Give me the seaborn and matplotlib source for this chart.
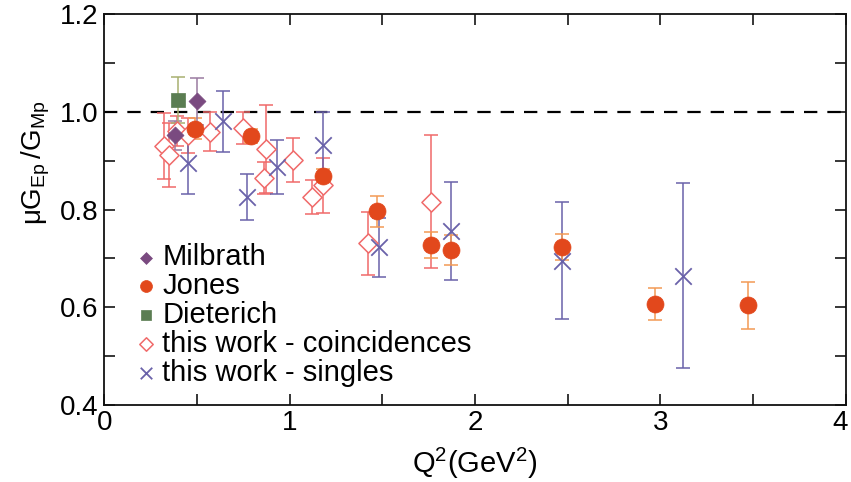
import matplotlib
matplotlib.use('Agg')
import matplotlib.pyplot as plt
import matplotlib.transforms as mtransforms
import seaborn as sns
import numpy as np

# Data
milbrath_q2 = [0.38, 0.50]
milbrath_r = [0.952, 1.022]
milbrath_err = [0.030, 0.048]

jones_q2 = [0.49, 0.79, 1.18, 1.47, 1.76, 1.87, 2.47, 2.97, 3.47]
jones_r = [0.966, 0.951, 0.869, 0.797, 0.727, 0.718, 0.724, 0.607, 0.604]
jones_err = [0.022, 0.015, 0.015, 0.032, 0.027, 0.031, 0.027, 0.033, 0.048]

dieterich_q2 = [0.40]
dieterich_r = [1.024]
dieterich_err = [0.047]

coinc_q2 = [0.32, 0.35, 0.39, 0.45, 0.57, 0.75, 0.87, 0.86, 1.02, 1.12, 1.18, 1.42, 1.76]
coinc_r = [0.931, 0.912, 0.961, 0.952, 0.960, 0.967, 0.924, 0.865, 0.902, 0.826, 0.850, 0.731, 0.816]
coinc_err = [0.068, 0.065, 0.030, 0.036, 0.040, 0.033, 0.090, 0.033, 0.045, 0.034, 0.056, 0.064, 0.136]

singles_q2 = [0.45, 0.64, 0.77, 0.93, 1.18, 1.48, 1.87, 2.47, 3.12]
singles_r = [0.895, 0.981, 0.826, 0.888, 0.933, 0.723, 0.756, 0.695, 0.665]
singles_err = [0.062, 0.062, 0.048, 0.055, 0.067, 0.060, 0.100, 0.120, 0.190]

x_ticks = [0, 1, 2, 3, 4]
y_ticks = [0.4, 0.6, 0.8, 1.0, 1.2]

# Colours
C_MILB = '#7a4a80'
C_JONES = '#e2481c'
C_JONES_ERR = '#f39a55'
C_DIET = '#5b7d52'
C_DIET_ERR = '#a8b070'
C_COINC = '#f06a6a'
C_SING = '#6a62aa'


def make_plot(out_path='out.png'):
    sns.set_theme(style='ticks')
    plt.rcParams['font.family'] = ['Liberation Sans', 'DejaVu Sans']
    plt.rcParams['mathtext.default'] = 'regular'
    plt.rcParams['text.color'] = 'black'
    plt.rcParams['axes.labelcolor'] = 'black'
    plt.rcParams['xtick.color'] = 'black'
    plt.rcParams['ytick.color'] = 'black'

    fig = plt.figure(figsize=(8.51, 4.82), dpi=100)
    ax = fig.add_axes([0.1225, 0.16, 0.8715, 0.81])

    ax.axhline(1.0, color='black', lw=1.6, ls=(0, (6, 4.5)), zorder=1)

    ebar = dict(fmt='none', capsize=5, elinewidth=1.1, capthick=1.1)
    ax.errorbar(coinc_q2, coinc_r, yerr=coinc_err, ecolor=C_COINC, zorder=2, **ebar)
    ax.errorbar(singles_q2, singles_r, yerr=singles_err, ecolor=C_SING, zorder=2, **ebar)
    ax.errorbar(jones_q2, jones_r, yerr=jones_err, ecolor=C_JONES_ERR, zorder=3, **ebar)
    ax.errorbar(milbrath_q2, milbrath_r, yerr=milbrath_err, ecolor='#9a7aa0', zorder=3, **ebar)
    ax.errorbar(dieterich_q2, dieterich_r, yerr=dieterich_err, ecolor=C_DIET_ERR, zorder=3, **ebar)

    sns.scatterplot(x=milbrath_q2, y=milbrath_r, marker='D', s=75, color=C_MILB,
                    edgecolor=C_MILB, linewidth=0.5, label='Milbrath', ax=ax, zorder=5)
    sns.scatterplot(x=jones_q2, y=jones_r, marker='o', s=150, color=C_JONES,
                    edgecolor=C_JONES, linewidth=0.5, label='Jones', ax=ax, zorder=4)
    sns.scatterplot(x=dieterich_q2, y=dieterich_r, marker='s', s=110, color=C_DIET,
                    edgecolor=C_DIET, linewidth=0.5, label='Dieterich', ax=ax, zorder=5)
    sns.scatterplot(x=coinc_q2, y=coinc_r, marker='D', s=95, facecolor='white',
                    edgecolor=C_COINC, linewidth=1.1, label='this work - coincidences',
                    ax=ax, zorder=3)
    sns.scatterplot(x=singles_q2, y=singles_r, marker='x', s=140, color=C_SING,
                    linewidth=1.3, label='this work - singles', ax=ax, zorder=3)

    ax.set_xlim(0, 4)
    ax.set_ylim(0.4, 1.2)
    ax.set_xticks(x_ticks)
    ax.set_yticks(y_ticks)
    ax.set_xticklabels([str(t) for t in x_ticks])
    ax.set_yticklabels([f'{t:.1f}' for t in y_ticks])
    ax.set_xticks(np.arange(0.5, 4, 1.0), minor=True)
    ax.set_yticks(np.arange(0.5, 1.2, 0.2), minor=True)
    ax.tick_params(which='both', direction='in', length=8, width=1.1,
                   top=True, right=True, labelsize=20, pad=4)
    for sp in ax.spines.values():
        sp.set_linewidth(1.3)
        sp.set_color('#111111')

    # keep the last x tick label inside the canvas
    last = ax.get_xticklabels()[-1]
    last.set_transform(last.get_transform() +
                       mtransforms.ScaledTranslation(-4 / 72, 0, fig.dpi_scale_trans))

    ax.set_xlabel(r'$Q^2$(GeV$^2$)', fontsize=21, labelpad=7)
    ax.set_ylabel(r'$\mu G_{Ep}\,/G_{Mp}$', fontsize=20, labelpad=6)
    ax.yaxis.label.set_y(0.62)

    leg = ax.legend(loc='lower left', bbox_to_anchor=(0.0215, 0.0167), frameon=False,
                    fontsize=21, handletextpad=0.05, labelspacing=0.03,
                    borderaxespad=0.0, markerscale=0.7, handlelength=1.0)
    for h in leg.legend_handles:
        h.set_zorder(10)

    fig.savefig(out_path, dpi=100)
    plt.close(fig)


if __name__ == '__main__':
    make_plot()
